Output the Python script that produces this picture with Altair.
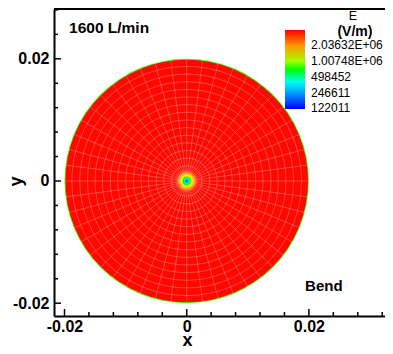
import altair as alt
import pandas as pd

# ---------------- axis extents (metres) ----------------
PLOT_W, PLOT_H = 331, 307
PX_PER_UNIT = 6110.0
x_min = -0.021718
x_max = x_min + PLOT_W / PX_PER_UNIT
y_min, y_max = -0.022095, 0.028150
R_PX = 0.02 * PX_PER_UNIT
MAJOR_LEN = 7 / PX_PER_UNIT
MINOR_LEN = 4 / PX_PER_UNIT

# ---------------- tick values ----------------
x_major = [-0.02, 0.0, 0.02]
x_minor = [-0.016, -0.012, -0.008, -0.004, 0.004, 0.008, 0.012, 0.016, 0.024, 0.028, 0.032]
y_major = [-0.02, 0.0, 0.02]
y_minor = [-0.016, -0.012, -0.008, -0.004, 0.004, 0.008, 0.012, 0.016, 0.024, 0.028]

# ---------------- field: E (V/m) vs radius (m) ----------------
disk_radius = [0.02, 0.01985, 0.0018, 0.00164, 0.00147, 0.00131, 0.00115,
               0.00098, 0.00082, 0.00065, 0.00049, 0.00033, 0.00016, 0.00008]
disk_E = [8.0e5, 3.9e6, 3.4e6, 3.0e6, 2.5e6, 2.0e6, 1.6e6,
          1.25e6, 9.5e5, 6.8e5, 4.4e5, 2.7e5, 1.6e5, 1.25e5]

# ---------------- mesh ----------------
mesh_rings = [0.00125, 0.0025, 0.00375, 0.005, 0.00625, 0.0075, 0.00875, 0.01,
              0.01125, 0.0125, 0.01375, 0.015, 0.01625, 0.0175, 0.01875]
mesh_angles = [0, 7.5, 15, 22.5, 30, 37.5, 45, 52.5, 60, 67.5, 75, 82.5,
               90, 97.5, 105, 112.5, 120, 127.5, 135, 142.5, 150, 157.5, 165, 172.5,
               180, 187.5, 195, 202.5, 210, 217.5, 225, 232.5, 240, 247.5, 255, 262.5,
               270, 277.5, 285, 292.5, 300, 307.5, 315, 322.5, 330, 337.5, 345, 352.5]
mesh_r_in, mesh_r_out = 0.00125, 0.02

# ---------------- legend ----------------
legend_values = [122011, 246611, 498452, 1007480, 2036320]
color_domain = [118000, 4050000]
color_range = ["#0000ff", "#0080ff", "#00ffff", "#00ff00", "#ffff00", "#ff8000", "#ff0000"]

FONT = "Liberation Sans"

xs = alt.Scale(domain=[x_min, x_max], nice=False, zero=False)
ys = alt.Scale(domain=[y_min, y_max], nice=False, zero=False)
rs = alt.Scale(type="linear", domain=[0, 0.02], range=[0, R_PX], zero=True, nice=False)
cs = alt.Scale(type="log", domain=color_domain, range=color_range, interpolate="rgb", nice=False)

label_expr = "datum.value == 0 ? '0' : (datum.value < 0 ? '-' : '') + format(abs(datum.value), '.2f')"

x_axis = alt.Axis(values=x_major, labelExpr=label_expr, labelFont=FONT, labelFontSize=16,
                  labelFontWeight="bold", labelColor="black", labelPadding=2, labelFlush=False,
                  ticks=False, domainColor="black", domainWidth=2, grid=False,
                  title="x", titleFont=FONT, titleFontSize=18, titleFontWeight="bold",
                  titleColor="black", titleX=133, titleY=29, titleBaseline="alphabetic",
                  titleAlign="center", zindex=1)
y_axis = alt.Axis(values=y_major, labelExpr=label_expr, labelFont=FONT, labelFontSize=16,
                  labelFontWeight="bold", labelColor="black", labelPadding=5, labelFlush=False,
                  ticks=False, domainColor="black", domainWidth=2, grid=False,
                  title="y", titleFont=FONT, titleFontSize=18, titleFontWeight="bold",
                  titleColor="black", titleX=-38, titleY=y_max * PX_PER_UNIT,
                  titleBaseline="middle", titleAlign="center", titleAngle=270, zindex=1)

disks = alt.Chart(pd.DataFrame({"r": disk_radius, "E": disk_E})).mark_arc(
    theta=0, theta2=6.2832
).encode(
    x=alt.XDatum(0, type="quantitative", scale=xs, axis=x_axis),
    y=alt.YDatum(0, type="quantitative", scale=ys, axis=y_axis),
    radius=alt.Radius("r:Q", scale=rs, stack=False),
    color=alt.Color("E:Q", scale=cs, legend=alt.Legend(
        orient="none", legendX=231, legendY=21, title=None, direction="vertical",
        gradientLength=79, gradientThickness=20, gradientStrokeWidth=0,
        values=legend_values,
        labelExpr="datum.value >= 1000000 ? replace(format(datum.value, '.5e'), 'e+', 'E+0') : format(datum.value, 'd')",
        labelFont=FONT, labelFontSize=12, labelColor="black", labelOffset=6,
        labelOverlap=False, padding=0)),
)

rings = alt.Chart(pd.DataFrame({"r": mesh_rings})).mark_arc(
    theta=0, theta2=6.2832, filled=False, stroke="white", strokeOpacity=0.3, strokeWidth=0.8
).encode(
    x=alt.XDatum(0, type="quantitative", scale=xs),
    y=alt.YDatum(0, type="quantitative", scale=ys),
    radius=alt.Radius("r:Q", scale=rs, stack=False),
)

spokes = alt.Chart(pd.DataFrame({"a": mesh_angles})).transform_calculate(
    x1=f"{mesh_r_in} * cos(datum.a * PI / 180)",
    y1=f"{mesh_r_in} * sin(datum.a * PI / 180)",
    x2=f"{mesh_r_out} * cos(datum.a * PI / 180)",
    y2=f"{mesh_r_out} * sin(datum.a * PI / 180)",
).mark_rule(stroke="white", strokeOpacity=0.3, strokeWidth=0.8).encode(
    x=alt.X("x1:Q", scale=xs),
    y=alt.Y("y1:Q", scale=ys),
    x2="x2:Q",
    y2="y2:Q",
)

def xticks(vals, length):
    return alt.Chart(pd.DataFrame({"v": vals})).mark_rule(color="black", strokeWidth=1.5).encode(
        x=alt.X("v:Q", scale=xs),
        y=alt.YDatum(y_min, type="quantitative", scale=ys),
        y2=alt.Y2Datum(y_min + length),
    )

def yticks(vals, length):
    return alt.Chart(pd.DataFrame({"v": vals})).mark_rule(color="black", strokeWidth=1.5).encode(
        y=alt.Y("v:Q", scale=ys),
        x=alt.XDatum(x_min, type="quantitative", scale=xs),
        x2=alt.X2Datum(x_min + length),
    )

top_line = alt.Chart(pd.DataFrame({"k": [0]})).mark_rule(color="black", strokeWidth=2).encode(
    x=alt.XDatum(x_min, type="quantitative", scale=xs),
    x2=alt.X2Datum(x_max),
    y=alt.YDatum(y_max, type="quantitative", scale=ys),
)

def label(text, x, y, size, weight, align):
    return alt.Chart(pd.DataFrame({"t": [text]})).mark_text(
        font=FONT, fontSize=size, fontWeight=weight, align=align, baseline="middle", color="black"
    ).encode(
        x=alt.XDatum(x, type="quantitative", scale=xs),
        y=alt.YDatum(y, type="quantitative", scale=ys),
        text="t:N",
    )

chart = alt.layer(
    disks, rings, spokes,
    xticks(x_major, MAJOR_LEN), xticks(x_minor, MINOR_LEN),
    yticks(y_major, MAJOR_LEN), yticks(y_minor, MINOR_LEN),
    top_line,
    label("1600 L/min", -0.01926, 0.02504, 15.5, "bold", "left"),
    label("Bend", 0.01937, -0.01718, 15, "bold", "left"),
    label("E", 0.02722, 0.0270, 12.5, "normal", "center"),
    label("(V/m)", 0.02753, 0.02439, 14, "bold", "center"),
).properties(
    width=PLOT_W, height=PLOT_H,
    autosize=alt.AutoSizeParams(type="none"),
    padding={"left": 46, "top": 1, "right": 0, "bottom": 30},
).configure(font=FONT).configure_view(stroke=None)

chart.save("out.html", embed_options={"renderer": "svg", "actions": False})
